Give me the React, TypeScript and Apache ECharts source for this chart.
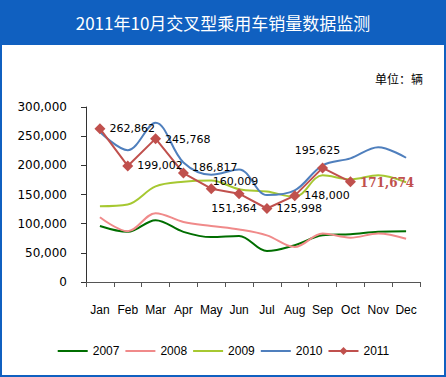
import React, { useEffect, useRef } from "react";
import * as echarts from "echarts";

const months = ["Jan", "Feb", "Mar", "Apr", "May", "Jun", "Jul", "Aug", "Sep", "Oct", "Nov", "Dec"];
const s2007 = [96000, 86000, 106000, 86000, 77000, 79000, 53000, 63000, 80000, 82000, 86000, 87000];
const s2008 = [111000, 87000, 118000, 103000, 96000, 90000, 80000, 60000, 83000, 76000, 83000, 74000];
const s2009 = [130000, 133000, 164000, 172000, 174000, 159000, 155000, 146000, 183000, 176000, 183000, 171000];
const s2010 = [257000, 226000, 273000, 205000, 184000, 193000, 149000, 157000, 200000, 212000, 231000, 213000];
const s2011 = [262862, 199002, 245768, 186817, 160009, 151364, 125998, 148000, 195625, 171674];
const yTicks = [0, 50000, 100000, 150000, 200000, 250000, 300000];

const fmt = (v: number) => v.toLocaleString("en-US");

export default function App() {
  const ref = useRef<HTMLDivElement>(null);
  useEffect(() => {
    document.body.style.margin = "0";
    const chart = echarts.init(ref.current!, null, { renderer: "svg" });
    const labelCfg: any[] = [
      { position: "right", offset: [0, 0] },
      { position: "right", offset: [0, 0] },
      { position: "right", offset: [0, 1] },
      { position: "right", offset: [-1, -6] },
      { position: "right", offset: [-8, -7] },
      { position: "bottom", offset: [-5, 0] },
      { position: "right", offset: [0, 0] },
      { position: "right", offset: [0, 0] },
      { position: "top", offset: [-5, -2] },
      { position: "right", offset: [0, 1], color: "#C0504D", fontWeight: "bold", fontFamily: "DejaVu Serif", fontSize: 12 },
    ];
    const d2011 = s2011.map((v, i) => ({ value: v, label: { show: true, ...labelCfg[i] } }));
    const lineSeries = (name: string, data: number[], color: string) => ({
      name,
      type: "line",
      data,
      smooth: 0.35,
      symbol: "none",
      lineStyle: { color, width: 2 },
      itemStyle: { color },
    });
    chart.setOption({
      animation: false,
      textStyle: { fontFamily: "DejaVu Sans" },
      graphic: [
        { type: "rect", shape: { x: 0, y: 0, width: 446, height: 45 }, style: { fill: "#1060C0" } },
        { type: "rect", shape: { x: 1, y: 44, width: 444, height: 332 }, style: { fill: "none", stroke: "#1060C0", lineWidth: 2 } },
        {
          type: "text",
          x: 223,
          y: 22,
          style: { text: "2011年10月交叉型乘用车销量数据监测", fill: "#fff", font: "17px 'Noto Sans CJK SC'", textAlign: "center", textVerticalAlign: "middle" },
        },
        {
          type: "text",
          x: 423,
          y: 78,
          style: { text: "单位：辆", fill: "#000", font: "12px 'Noto Sans CJK SC'", textAlign: "right", textVerticalAlign: "middle" },
        },
      ],
      grid: { left: 86, right: 26, top: 107, bottom: 95, containLabel: false },
      legend: {
        bottom: 15,
        left: "center",
        itemWidth: 30,
        itemHeight: 10,
        itemGap: 5,
        textStyle: { fontSize: 12, color: "#000", fontFamily: "Liberation Sans" },
        data: [
          { name: "2007", itemStyle: { opacity: 0 } },
          { name: "2008", itemStyle: { opacity: 0 } },
          { name: "2009", itemStyle: { opacity: 0 } },
          { name: "2010", itemStyle: { opacity: 0 } },
          { name: "2011" },
        ],
      },
      xAxis: {
        type: "category",
        data: months,
        boundaryGap: true,
        axisLine: { lineStyle: { color: "#555", width: 1 } },
        axisTick: { show: true, length: 5, alignWithLabel: false, lineStyle: { color: "#555" } },
        axisLabel: { color: "#000", fontSize: 12, margin: 22, interval: 0, fontFamily: "Liberation Sans" },
      },
      yAxis: {
        type: "value",
        min: 0,
        max: 300000,
        interval: 50000,
        axisLine: { show: true, lineStyle: { color: "#333", width: 1 } },
        axisTick: { show: true, length: 5, lineStyle: { color: "#333" } },
        splitLine: { show: false },
        axisLabel: { color: "#000", fontSize: 12, margin: 19, formatter: (v: number) => (yTicks.includes(v) ? fmt(v) : "") },
      },
      series: [
        lineSeries("2007", s2007, "#006E00"),
        lineSeries("2008", s2008, "#F08A8A"),
        lineSeries("2009", s2009, "#A6C831"),
        lineSeries("2010", s2010, "#4F7FBD"),
        {
          name: "2011",
          type: "line",
          data: d2011,
          symbol: "diamond",
          symbolSize: 11,
          lineStyle: { color: "#C0504D", width: 2 },
          itemStyle: { color: "#C0504D" },
          label: { show: true, color: "#000", fontSize: 11, formatter: (p: any) => fmt(p.value), distance: 4 },
          z: 5,
        },
      ],
    });
    return () => chart.dispose();
  }, []);
  return <div ref={ref} style={{ width: 446, height: 377, position: "absolute", left: 0, top: 0 }} />;
}
